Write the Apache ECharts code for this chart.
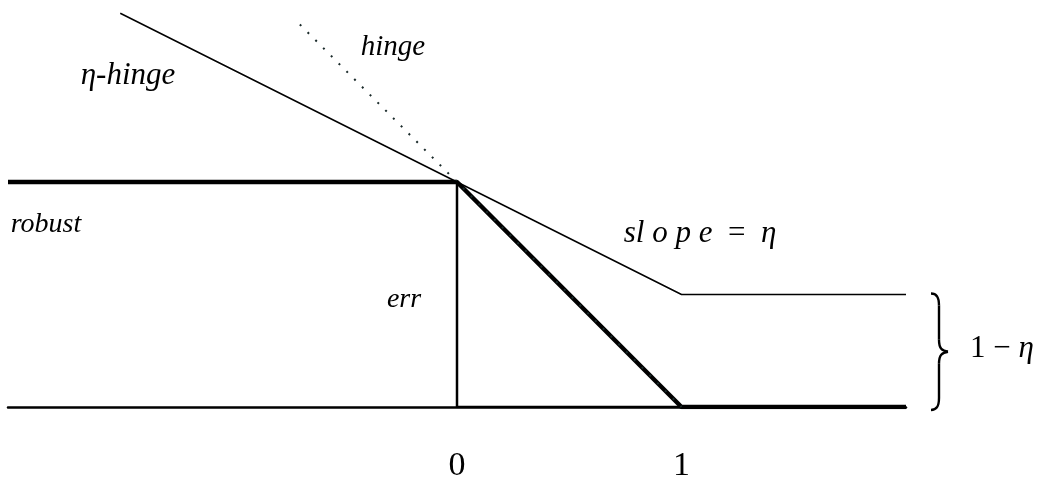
<!DOCTYPE html>
<html>
<head>
<meta charset="utf-8">
<script src="https://cdn.jsdelivr.net/npm/echarts@6/dist/echarts.min.js"></script>
<style>
  html, body { margin: 0; padding: 0; background: #fff; }
  #chart { width: 1051px; height: 480px; }
</style>
</head>
<body>
<div id="chart"></div>
<script>
// Loss functions of the margin: 0-1 error, robust (ramp), hinge and eta-hinge.
const eta = 0.5;
const xTicks = [0, 1];

// 0-1 error: 1 for negative margin, 0 afterwards
const errPoints = [[-2, 1], [0, 1], [0, 0], [2, 0]];
// robust (ramp) loss
const robustPoints = [[-2, 1], [0, 1], [1, 0], [2, 0]];
// hinge loss, drawn dotted
const hingePoints = [[-0.7, 1.7], [0, 1], [1, 0]];
// eta-hinge: slope eta until margin 1, then flat at 1 - eta
const etaHingePoints = [[-1.5, 1.75], [1, 0.5], [2, 0.5]];

const chart = echarts.init(document.getElementById('chart'));
const serif = 'Liberation Serif';

chart.setOption({
  animation: false,
  backgroundColor: '#fff',
  grid: { left: 8, right: 145, top: 2, bottom: 73, outerBoundsMode: 'none', containLabel: false },
  xAxis: {
    type: 'value', min: -2, max: 2,
    splitLine: { show: false },
    axisLine: { show: true, lineStyle: { color: '#000', width: 2.5 } },
    axisTick: { show: false },
    axisLabel: {
      customValues: xTicks,
      fontFamily: serif, fontSize: 34, color: '#000', margin: 42
    }
  },
  yAxis: {
    type: 'value', min: 0, max: 1.8,
    show: false, splitLine: { show: false }
  },
  series: [
    {
      name: 'err', type: 'line', data: errPoints, symbol: 'none', z: 2,
      lineStyle: { color: '#000', width: 2.5 }
    },
    {
      name: 'robust', type: 'line', data: robustPoints, symbol: 'none', z: 3,
      lineStyle: { color: '#000', width: 4.5 }
    },
    {
      name: 'hinge', type: 'line', data: hingePoints, symbol: 'none', z: 4,
      lineStyle: { color: '#1a2a2a', width: 2, type: [2, 9] }
    },
    {
      name: 'eta-hinge', type: 'line', data: etaHingePoints, symbol: 'none', z: 5,
      lineStyle: { color: '#000', width: 1.5 }
    }
  ]
});

// Brace marking the 1 - eta gap, placed from data coordinates
const braceTop = chart.convertToPixel({ seriesIndex: 0 }, [2, 1 - eta]);
const braceBot = chart.convertToPixel({ seriesIndex: 0 }, [2, 0]);
const bx = braceTop[0] + 28;
const y0 = braceTop[1] - 1, y1 = braceBot[1] + 3, ym = (y0 + y1) / 2;
const w = 14;
const braceStyle = { stroke: '#000', lineWidth: 2.4, fill: null };
const curve = (x1, yA, x2, yB, c1x, c1y, c2x, c2y) => ({
  type: 'bezierCurve',
  shape: { x1, y1: yA, x2, y2: yB, cpx1: c1x, cpy1: c1y, cpx2: c2x, cpy2: c2y },
  style: braceStyle
});
const seg = (x1, yA, x2, yB) => ({
  type: 'line', shape: { x1, y1: yA, x2, y2: yB }, style: braceStyle
});
const brace = [
  curve(bx - 3, y0, bx + 5, y0 + 12, bx + 3, y0, bx + 5, y0 + 4),
  seg(bx + 5, y0 + 12, bx + 5, ym - 12),
  curve(bx + 5, ym - 12, bx + w, ym, bx + 5, ym - 3, bx + 8, ym - 1),
  curve(bx + w, ym, bx + 5, ym + 12, bx + 8, ym + 1, bx + 5, ym + 3),
  seg(bx + 5, ym + 12, bx + 5, y1 - 12),
  curve(bx + 5, y1 - 12, bx - 3, y1, bx + 5, y1 - 4, bx + 3, y1)
];

const label = (text, x, y, size) => ({
  type: 'text', x, y,
  style: {
    text, fill: '#000', font: `italic ${size}px "${serif}"`,
    textAlign: 'center', textVerticalAlign: 'middle'
  }
});

chart.setOption({
  graphic: brace.concat([
    label('η-hinge', 128, 76, 31),
    label('hinge', 393, 47, 29),
    label('robust', 46, 225, 28),
    label('err', 404, 300, 28),
    {
      type: 'text', x: 700, y: 234,
      style: {
        text: '{a|sl o p e}{b|  =  }{a|η}', textAlign: 'center', textVerticalAlign: 'middle',
        rich: {
          a: { fontFamily: serif, fontStyle: 'italic', fontSize: 31, fill: '#000' },
          b: { fontFamily: serif, fontSize: 31, fill: '#000' }
        }
      }
    },
    {
      type: 'text', x: bx + w + 22, y: ym - 3,
      style: {
        text: '{b|1 − }{a|η}', textAlign: 'left', textVerticalAlign: 'middle',
        rich: {
          a: { fontFamily: serif, fontStyle: 'italic', fontSize: 31, fill: '#000' },
          b: { fontFamily: serif, fontSize: 31, fill: '#000' }
        }
      }
    }
  ])
});
</script>
</body>
</html>
